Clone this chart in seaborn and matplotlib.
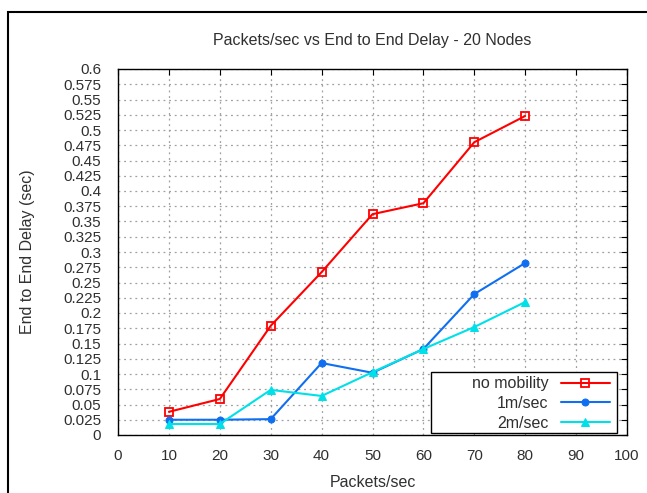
import numpy as np
import pandas as pd
import matplotlib
matplotlib.use("Agg")
import matplotlib.pyplot as plt
import seaborn as sns

sns.set_style("white")
plt.rcParams['font.family'] = ['Liberation Sans', 'DejaVu Sans']

# data
packets = [10, 20, 30, 40, 50, 60, 70, 80]
no_mobility = [0.038, 0.059, 0.179, 0.267, 0.362, 0.380, 0.480, 0.523]
one_mps = [0.025, 0.025, 0.026, 0.118, 0.102, 0.141, 0.231, 0.282]
two_mps = [0.018, 0.018, 0.074, 0.064, 0.103, 0.141, 0.177, 0.218]

xticks = list(range(0, 101, 10))
yticks = [i * 0.025 for i in range(25)]
ylabels = ['0', '0.025', '0.05', '0.075', '0.1', '0.125', '0.15', '0.175', '0.2',
           '0.225', '0.25', '0.275', '0.3', '0.325', '0.35', '0.375', '0.4',
           '0.425', '0.45', '0.475', '0.5', '0.525', '0.55', '0.575', '0.6']

txt = '#303030'

fig = plt.figure(figsize=(6.47, 4.93), dpi=100)
ax = fig.add_axes([118 / 647, 58 / 493, 509 / 647, 366 / 493])

# outer frame of the original image
fig.patches.append(plt.Rectangle((8 / 647, -0.05), 1.1, (493 - 12) / 493 + 0.05,
                                 transform=fig.transFigure, fill=False,
                                 edgecolor='black', linewidth=1.5))

sns.lineplot(x=packets, y=no_mobility, ax=ax, color='#ff0000', marker='s',
             markersize=6, markerfacecolor='none', markeredgecolor='#ff0000',
             markeredgewidth=1.3, linewidth=1.5, label='no mobility')
sns.lineplot(x=packets, y=one_mps, ax=ax, color='#0f6ff0', marker='o',
             markersize=5, markeredgecolor='#0f6ff0', linewidth=1.5, label='1m/sec')
sns.lineplot(x=packets, y=two_mps, ax=ax, color='#00e0e8', marker='^',
             markersize=6, markeredgecolor='#00e0e8', linewidth=1.5, label='2m/sec')

ax.set_xlim(0, 100)
ax.set_ylim(0, 0.6)
ax.set_xticks(xticks)
ax.set_yticks(yticks)
ax.set_yticklabels(ylabels)
ax.tick_params(direction='in', top=True, right=True, length=4, labelsize=11,
               color='black', labelcolor=txt)
ax.tick_params(axis='x', pad=10)
ax.tick_params(axis='y', pad=12)
ax.grid(True, linestyle=(0, (1.5, 3)), color='#a0a0a0', linewidth=0.9)
for s in ax.spines.values():
    s.set_color('black')
    s.set_linewidth(1.0)

ax.set_xlabel('Packets/sec', fontsize=11.5, color=txt, labelpad=9)
ax.set_ylabel('End to End Delay (sec)', fontsize=11.5, color=txt, labelpad=20)
ax.set_title('Packets/sec vs End to End Delay - 20 Nodes', fontsize=11.5,
             color=txt, pad=17)

# gnuplot-style wide key box
box = plt.Rectangle((0.615, 0.005), 0.365, 0.167, transform=ax.transAxes,
                    facecolor='white', edgecolor='black', linewidth=1.0, zorder=4)
ax.add_patch(box)
leg = ax.legend(loc='lower right', bbox_to_anchor=(0.978, -0.004), borderaxespad=0,
                markerfirst=False, fontsize=11.5, frameon=False,
                handlelength=3.1, handletextpad=0.75, borderpad=0.35,
                labelspacing=0.3)
leg.set_zorder(5)
for t in leg.get_texts():
    t.set_ha('right')
    t.set_color(txt)

fig.savefig('out.png', dpi=100)
